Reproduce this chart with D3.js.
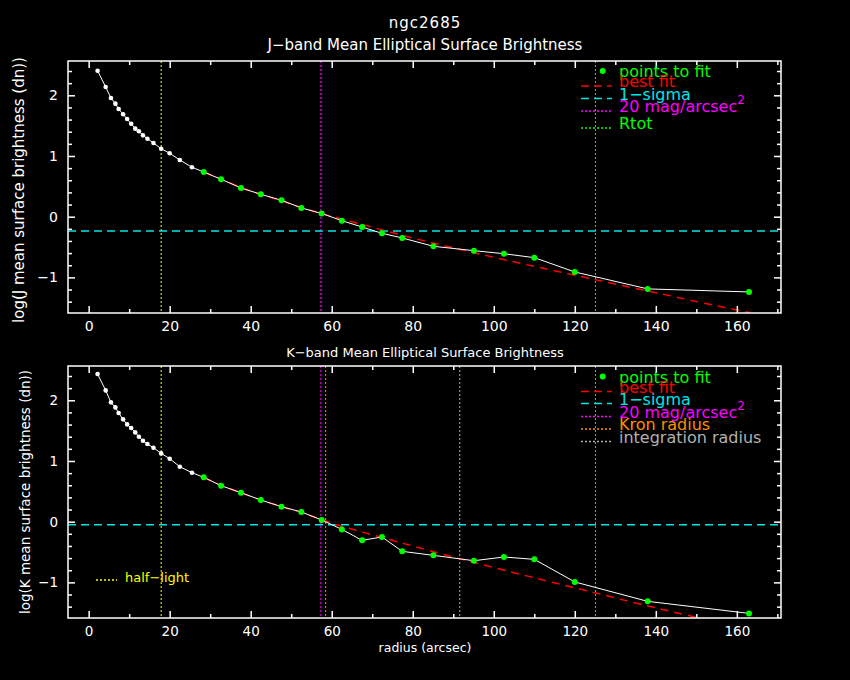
<!DOCTYPE html>
<html>
<head>
<meta charset="utf-8">
<script src="https://cdn.jsdelivr.net/npm/d3@7"></script>
<style>
  body { margin: 0; background: #000; }
  svg { display: block; }
  text { font-family: "DejaVu Sans", sans-serif; fill: #fff; }
</style>
</head>
<body>
<div id="chart"></div>
<script>
// radii of the elliptical annuli (arcsec), same for both bands
var radius = [2.2, 4.2, 5.5, 6.6, 7.4, 8.5, 9.5, 10.5, 11.5, 12.4, 13.4, 14.5, 16, 17.9, 20, 22.5, 25.5,
  28.4, 32.7, 37.6, 42.5, 47.6, 52.5, 57.5, 62.5, 67.5, 72.4, 77.4, 85.1, 95.1, 102.5, 110, 120, 138, 163];
var firstFitIndex = 17; // points from here on are the green "points to fit"

var jValues = [2.405, 2.137, 1.955, 1.862, 1.774, 1.687, 1.61, 1.532, 1.45, 1.407, 1.34, 1.285, 1.214, 1.12, 1.044, 0.934, 0.814,
  0.736, 0.616, 0.473, 0.369, 0.27, 0.145, 0.053, -0.066, -0.17, -0.274, -0.351, -0.488, -0.56, -0.61, -0.675, -0.911, -1.19, -1.24];
var kValues = [2.433, 2.163, 1.966, 1.883, 1.79, 1.686, 1.603, 1.543, 1.471, 1.40, 1.334, 1.28, 1.219, 1.125, 1.038, 0.906, 0.807,
  0.73, 0.593, 0.478, 0.357, 0.247, 0.16, 0.028, -0.127, -0.308, -0.252, -0.489, -0.555, -0.643, -0.582, -0.621, -0.993, -1.313, -1.511];

// best fit curves
var jFitRadius = [28.4, 32.7, 37.6, 42.5, 47.6, 52.5, 57.5, 67, 80.2, 95, 106.5, 119.7, 134.5, 142.7, 152.6, 163];
var jFitValues = [0.736, 0.62, 0.48, 0.365, 0.262, 0.15, 0.05, -0.12, -0.356, -0.593, -0.768, -0.96, -1.175, -1.29, -1.435, -1.58];
var kFitRadius = [28.4, 32.6, 37.6, 42.5, 47.5, 52.5, 57.6, 60.4, 66.9, 76.7, 90, 99.9, 113, 122.9, 134.5, 141.9, 149.3, 155];
var kFitValues = [0.73, 0.6, 0.475, 0.355, 0.25, 0.15, 0.035, -0.038, -0.16, -0.34, -0.585, -0.755, -0.975, -1.137, -1.33, -1.45, -1.565, -1.66];

// reference lines
var jSigma = -0.235, kSigma = -0.05;
var halfLight = 17.9, mag20 = 57.3, kronRadius = 58.5, integRadius = 91.6, rtot = 125.1;

var xTicks = [0, 20, 40, 60, 80, 100, 120, 140, 160];
var yTicks = [-1, 0, 1, 2];

var W = 850, H = 680;
var svg = d3.select("#chart").append("svg").attr("width", W).attr("height", H);
svg.append("rect").attr("width", W).attr("height", H).attr("fill", "#000");

var x = d3.scaleLinear().domain([-5.1, 170.9]).range([68, 781]);

svg.append("text").attr("x", 425).attr("y", 28).attr("text-anchor", "middle")
  .style("font-size", "15px").style("letter-spacing", "1px").text("ngc2685");

function panel(top, bottom, opt) {
  var y = d3.scaleLinear().domain([-1.587, 2.565]).range([bottom, top]);
  var g = svg.append("g");

  // clip everything to the frame
  g.append("clipPath").attr("id", opt.id).append("rect")
    .attr("x", 68).attr("y", top).attr("width", 781 - 68).attr("height", bottom - top);
  var plot = g.append("g").attr("clip-path", "url(#" + opt.id + ")");

  // vertical marker lines
  opt.vlines.forEach(function(v) {
    plot.append("line").attr("x1", x(v.r)).attr("x2", x(v.r)).attr("y1", top).attr("y2", bottom)
      .attr("stroke", v.color).attr("stroke-width", 1).attr("stroke-dasharray", "2,2");
  });

  // 1-sigma line
  plot.append("line").attr("x1", 68).attr("x2", 781).attr("y1", y(opt.sigma)).attr("y2", y(opt.sigma))
    .attr("stroke", "#00e5e5").attr("stroke-width", 1.5).attr("stroke-dasharray", "8,5");

  // best fit
  plot.append("path")
    .datum(d3.zip(opt.fitR, opt.fitV))
    .attr("d", d3.line().x(function(d) { return x(d[0]); }).y(function(d) { return y(d[1]); }))
    .attr("fill", "none").attr("stroke", "#ff0000").attr("stroke-width", 1.5).attr("stroke-dasharray", "8,6");

  var pts = d3.zip(radius, opt.values);
  plot.append("path")
    .datum(pts)
    .attr("d", d3.line().x(function(d) { return x(d[0]); }).y(function(d) { return y(d[1]); }))
    .attr("fill", "none").attr("stroke", "#fff").attr("stroke-width", 1);

  plot.selectAll("circle.pt")
    .data(pts)
    .enter()
    .append("circle")
    .attr("class", "pt")
    .attr("cx", function(d) { return x(d[0]); })
    .attr("cy", function(d) { return y(d[1]); })
    .attr("r", function(d, i) { return i < firstFitIndex ? 2.3 : 3; })
    .attr("fill", function(d, i) { return i < firstFitIndex ? "#fff" : "#00ff00"; });

  // axes, ticks pointing inward on all four sides
  var minorX = d3.range(0, 171, 10).filter(function(v) { return v % 20 != 0; });
  var minorY = d3.range(-14, 25, 2).map(function(v) { return v / 10; }).filter(function(v) { return Math.abs(v - Math.round(v)) > 0.01; });

  function drawAxis(axis, tr, labels, fontSize) {
    var a = g.append("g").attr("transform", tr).call(axis);
    a.select(".domain").remove();
    a.selectAll("line").attr("stroke", "#fff").attr("stroke-width", 1.5);
    a.selectAll("text").style("font-size", fontSize).attr("fill", "#fff").style("font-family", "DejaVu Sans");
    if (!labels) a.selectAll("text").remove();
  }

  drawAxis(d3.axisBottom(x).tickValues(xTicks).tickSizeInner(-7).tickSizeOuter(0).tickPadding(8).tickFormat(d3.format("d")),
    "translate(0," + bottom + ")", true, opt.tickFont);
  drawAxis(d3.axisBottom(x).tickValues(minorX).tickSizeInner(-4).tickSizeOuter(0), "translate(0," + bottom + ")", false);
  drawAxis(d3.axisTop(x).tickValues(xTicks).tickSizeInner(-7).tickSizeOuter(0), "translate(0," + top + ")", false);
  drawAxis(d3.axisTop(x).tickValues(minorX).tickSizeInner(-4).tickSizeOuter(0), "translate(0," + top + ")", false);
  drawAxis(d3.axisLeft(y).tickValues(yTicks).tickSizeInner(-7).tickSizeOuter(0).tickPadding(10).tickFormat(d3.format("d")),
    "translate(68,0)", true, opt.tickFont);
  drawAxis(d3.axisLeft(y).tickValues(minorY).tickSizeInner(-4).tickSizeOuter(0), "translate(68,0)", false);
  drawAxis(d3.axisRight(y).tickValues(yTicks).tickSizeInner(-7).tickSizeOuter(0), "translate(781,0)", false);
  drawAxis(d3.axisRight(y).tickValues(minorY).tickSizeInner(-4).tickSizeOuter(0), "translate(781,0)", false);

  g.append("rect").attr("x", 68).attr("y", top).attr("width", 781 - 68).attr("height", bottom - top)
    .attr("fill", "none").attr("stroke", "#fff").attr("stroke-width", 1.5);

  // titles
  g.append("text").attr("x", 425).attr("y", opt.titleY).attr("text-anchor", "middle")
    .style("font-size", opt.titleFont).text(opt.title);
  g.append("text").attr("transform", "translate(" + opt.ylabX + "," + opt.ylabY + ") rotate(-90)")
    .attr("text-anchor", "middle").style("font-size", opt.ylabFont).text(opt.ylab);

  // legend
  var lg = g.append("g");
  lg.append("circle").attr("cx", 602.7).attr("cy", opt.legendY[0] - 6).attr("r", 3).attr("fill", "#00ff00");
  opt.legend.forEach(function(item, i) {
    var ly = opt.legendY[i];
    if (item.dash) {
      lg.append("line").attr("x1", 581).attr("x2", 612).attr("y1", ly - 1).attr("y2", ly - 1)
        .attr("stroke", item.color).attr("stroke-width", 1.5).attr("stroke-dasharray", item.dash);
    }
    var t = lg.append("text").attr("x", 619).attr("y", ly).style("font-size", "16px")
      .style("fill", item.color).text(item.label);
    if (item.sup) {
      t.append("tspan").attr("dy", -8).style("font-size", "12px").text(item.sup);
    }
  });

  return y;
}

panel(61, 313, {
  id: "clipJ",
  values: jValues, fitR: jFitRadius, fitV: jFitValues, sigma: jSigma,
  vlines: [{ r: halfLight, color: "#ffff00" }, { r: mag20, color: "#ff00ff" }, { r: rtot, color: "#00ff00" }],
  title: "J\u2212band Mean Elliptical Surface Brightness", titleY: 50, titleFont: "15px",
  ylab: "log(J mean surface brightness (dn))", ylabX: 24, ylabY: 190, ylabFont: "15px",
  tickFont: "14px",
  legendY: [77, 87, 99.5, 112, 129],
  legend: [
    { label: "points to fit", color: "#00ff00" },
    { label: "best fit", color: "#ff0000", dash: "8,5" },
    { label: "1\u2212sigma", color: "#00e5e5", dash: "8,5" },
    { label: "20 mag/arcsec", color: "#ff00ff", dash: "2,2", sup: "2" },
    { label: "Rtot", color: "#00ff00", dash: "2,2" }
  ]
});

panel(366, 618, {
  id: "clipK",
  values: kValues, fitR: kFitRadius, fitV: kFitValues, sigma: kSigma,
  vlines: [{ r: halfLight, color: "#ffff00" }, { r: mag20, color: "#ff00ff" }, { r: kronRadius, color: "#ff8c00" },
    { r: integRadius, color: "#b0b0b0" }, { r: rtot, color: "#00ff00" }],
  title: "K\u2212band Mean Elliptical Surface Brightness", titleY: 357, titleFont: "13px",
  ylab: "log(K mean surface brightness (dn))", ylabX: 30, ylabY: 492, ylabFont: "13.5px",
  tickFont: "13.5px",
  legendY: [382.5, 392.5, 404.5, 417.5, 430, 442.5],
  legend: [
    { label: "points to fit", color: "#00ff00" },
    { label: "best fit", color: "#ff0000", dash: "8,5" },
    { label: "1\u2212sigma", color: "#00e5e5", dash: "8,5" },
    { label: "20 mag/arcsec", color: "#ff00ff", dash: "2,2", sup: "2" },
    { label: "Kron radius", color: "#ff8c00", dash: "2,2" },
    { label: "integration radius", color: "#b0b0b0", dash: "2,2" }
  ]
});

// half-light key in the lower panel
svg.append("line").attr("x1", 96).attr("x2", 117).attr("y1", 580).attr("y2", 580)
  .attr("stroke", "#ffff00").attr("stroke-width", 1.5).attr("stroke-dasharray", "2,2");
svg.append("text").attr("x", 125).attr("y", 582).style("font-size", "13px").style("fill", "#ffff00").text("half\u2212light");

svg.append("text").attr("x", 425).attr("y", 652).attr("text-anchor", "middle")
  .style("font-size", "12.5px").text("radius (arcsec)");
</script>
</body>
</html>
